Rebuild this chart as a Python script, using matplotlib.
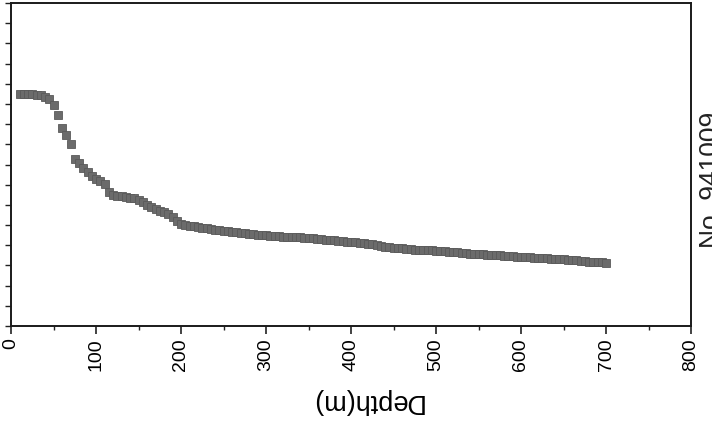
import numpy as np
import matplotlib
matplotlib.use('Agg')
import matplotlib.pyplot as plt
from matplotlib.ticker import MultipleLocator

plt.rcParams['font.family'] = ['Liberation Sans', 'DejaVu Sans']

# profundidade (m) a cada 5 m
depth = [10, 15, 20, 25, 30, 35, 40, 45, 50, 55, 60, 65, 70, 75, 80, 85, 90, 95,
         100, 105, 110, 115, 120, 125, 130, 135, 140, 145, 150, 155, 160, 165, 170, 175,
         180, 185, 190, 195, 200, 205, 210, 215, 220, 225, 230, 235, 240, 245, 250, 255,
         260, 265, 270, 275, 280, 285, 290, 295, 300, 305, 310, 315, 320, 325, 330, 335,
         340, 345, 350, 355, 360, 365, 370, 375, 380, 385, 390, 395, 400, 405, 410, 415,
         420, 425, 430, 435, 440, 445, 450, 455, 460, 465, 470, 475, 480, 485, 490, 495,
         500, 505, 510, 515, 520, 525, 530, 535, 540, 545, 550, 555, 560, 565, 570, 575,
         580, 585, 590, 595, 600, 605, 610, 615, 620, 625, 630, 635, 640, 645, 650, 655,
         660, 665, 670, 675, 680, 685, 690, 695, 700]

# valores (eixo sem rotulos, escala 0-16)
values = [11.48, 11.48, 11.48, 11.47, 11.46, 11.42, 11.35, 11.24, 10.95, 10.45, 9.80, 9.45,
          9.00, 8.25, 8.05, 7.85, 7.62, 7.42, 7.28, 7.20, 7.05, 6.62, 6.50, 6.46, 6.43, 6.40,
          6.35, 6.32, 6.25, 6.15, 6.00, 5.90, 5.80, 5.70, 5.63, 5.55, 5.40, 5.18, 5.03, 5.00,
          4.96, 4.94, 4.90, 4.87, 4.84, 4.81, 4.78, 4.75, 4.72, 4.70, 4.68, 4.66, 4.63, 4.60,
          4.57, 4.55, 4.53, 4.51, 4.49, 4.47, 4.46, 4.45, 4.43, 4.42, 4.41, 4.40, 4.39, 4.38,
          4.36, 4.34, 4.32, 4.30, 4.28, 4.26, 4.24, 4.22, 4.20, 4.18, 4.16, 4.14, 4.12, 4.10,
          4.08, 4.07, 4.02, 3.96, 3.92, 3.90, 3.88, 3.86, 3.84, 3.82, 3.80, 3.78, 3.77, 3.76,
          3.75, 3.74, 3.73, 3.72, 3.70, 3.68, 3.66, 3.65, 3.63, 3.61, 3.59, 3.57, 3.56, 3.55,
          3.54, 3.53, 3.52, 3.50, 3.48, 3.46, 3.45, 3.44, 3.42, 3.41, 3.40, 3.38, 3.37, 3.36,
          3.35, 3.34, 3.33, 3.32, 3.30, 3.29, 3.27, 3.25, 3.23, 3.21, 3.19, 3.18, 3.17, 3.15,
          3.13]

x_ticks = [0, 100, 200, 300, 400, 500, 600, 700, 800]
x_label = 'Depth(m)'
well_id = 'No. 941009'

fig = plt.figure(figsize=(7.12, 4.21), dpi=100)
ax = fig.add_axes([11 / 712, 1 - 326 / 421, 680 / 712, 323 / 421])

ax.plot(depth, values, linestyle='none', marker='s', markersize=5.5,
        markerfacecolor='#6b6b6b', markeredgecolor='#5a5a5a', markeredgewidth=0.6)

ax.set_xlim(0, 800)
ax.set_ylim(0, 16)
ax.set_xticks(x_ticks)
ax.set_xticklabels([str(t) for t in x_ticks], rotation=90, fontsize=14)
ax.xaxis.set_minor_locator(MultipleLocator(50))
ax.yaxis.set_major_locator(MultipleLocator(1))
ax.tick_params(axis='x', which='major', direction='out', length=6, width=1.2, color='#222222', pad=3)
ax.tick_params(axis='x', which='minor', direction='out', length=3, width=1.0, color='#222222')
ax.tick_params(axis='y', which='major', direction='out', length=4, width=1.0, color='#222222',
               labelleft=False)

for s in ax.spines.values():
    s.set_linewidth(1.4)
    s.set_color('#1a1a1a')

# rotulo de cabeca pra baixo, como no scan
ax.set_xlabel(x_label, fontsize=19.5, rotation=180)
ax.xaxis.label.set_va('center')
ax.xaxis.set_label_coords((366 - 11) / 680, -(401 - 326) / 323)

fig.text(699 / 712, 1 - 180 / 421, well_id, rotation=90, fontsize=19,
         ha='left', va='center', color='#222222')

fig.savefig('out.png', dpi=100, facecolor='white')
